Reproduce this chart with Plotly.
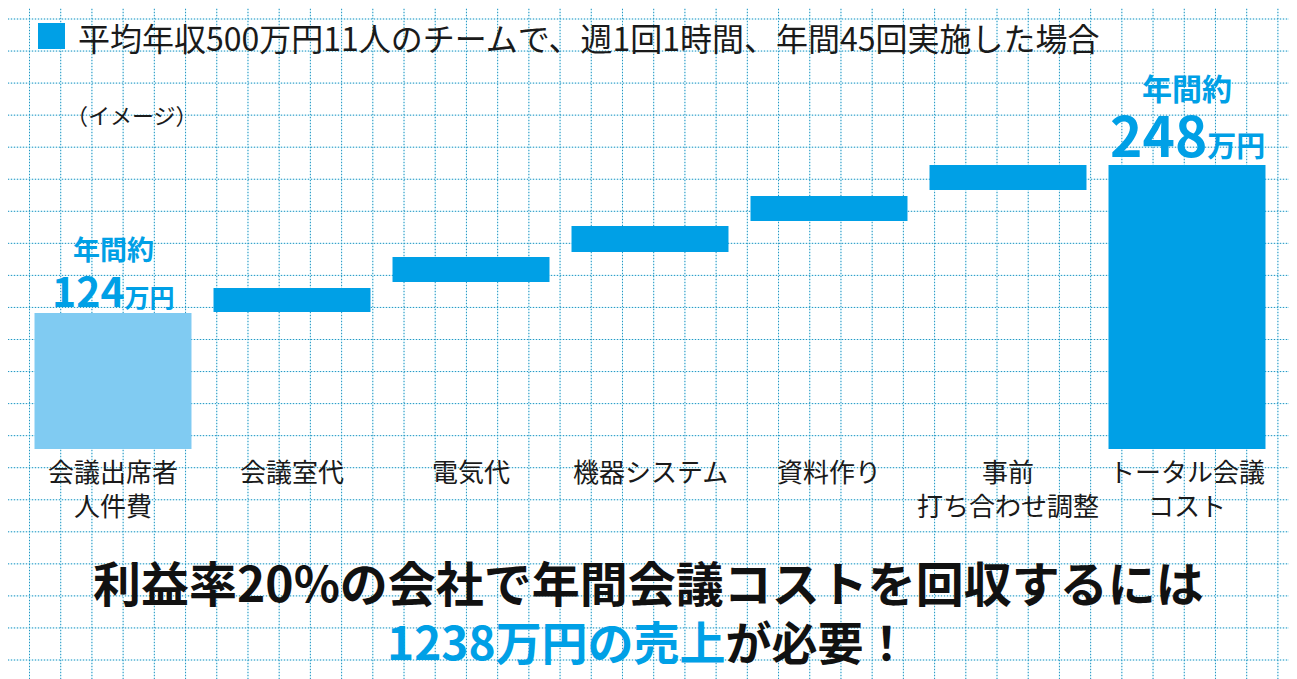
import plotly.graph_objects as go

# waterfall-style meeting cost image (values in 万円)
categories = ["会議出席者<br>人件費", "会議室代", "電気代", "機器システム",
              "資料作り", "事前<br>打ち合わせ調整", "トータル会議<br>コスト"]
bar_base = [0, 119.6, 145.8, 172.0, 199.1, 226.2, 0]
bar_size = [118.8, 21.0, 21.9, 22.7, 21.8, 21.8, 248]

label_idx = [0, 6]
label_nums = ["124", "248"]

title_text = "平均年収500万円11人のチームで、週1回1時間、年間45回実施した場合"
note_text = "（イメージ）"
bottom_line1 = "利益率20%の会社で年間会議コストを回収するには"
bottom_blue = "1238万円の売上"
bottom_rest = "が必要！"

BLUE = "#00a0e6"
LIGHT = "#80cbf2"
FONT = "Noto Sans CJK JP"

# the page puts the figure 8px in from the corner, so work in screen pixels
OFF = 8
SW, SH = 1297, 679
W, H = SW - OFF, SH - OFF


def fx(px):
    return (px - OFF) / W


def fy(py):
    return 1 - (py - OFF) / H


x = list(range(len(categories)))
colors = [LIGHT] + [BLUE] * (len(categories) - 1)

fig = go.Figure(
    data=[
        go.Bar(
            x=x,
            y=bar_size,
            base=bar_base,
            width=0.877,
            marker_color=colors,
            marker_line_width=0,
            hoverinfo="skip"
        )
    ]
)

# graph paper background
shapes = []
gx = [29.5 + 31.21 * k for k in range(41)]
gy = [19 + 32.05 * k for k in range(21)]
for style in [dict(color="#bfeaf6", width=1), dict(color="#2793c0", width=1, dash="1px,2px")]:
    for px in gx:
        shapes.append(dict(type="line", xref="paper", yref="paper", x0=fx(px), x1=fx(px),
                           y0=0, y1=1, line=style, layer="below"))
    for py in gy:
        shapes.append(dict(type="line", xref="paper", yref="paper", x0=0, x1=1,
                           y0=fy(py), y1=fy(py), line=style, layer="below"))

# blue square before the title
shapes.append(dict(type="rect", xref="paper", yref="paper",
                   x0=fx(38), x1=fx(65), y0=fy(49), y1=fy(23),
                   fillcolor=BLUE, line_width=0))

annotations = [
    dict(text=title_text, xref="paper", yref="paper", x=fx(76), y=fy(37),
         xanchor="left", yanchor="middle", showarrow=False,
         font=dict(family=FONT, size=32, color="#1a1a1a")),
    dict(text=note_text, xref="paper", yref="paper", x=fx(64), y=fy(114),
         xanchor="left", yanchor="middle", showarrow=False,
         font=dict(family=FONT, size=22, color="#1a1a1a")),
    dict(text=bottom_line1, xref="paper", yref="paper", x=fx(648), y=fy(581),
         xanchor="center", yanchor="middle", showarrow=False,
         font=dict(family=FONT, size=48, color="#111111", weight=700)),
    dict(text=f"<span style='color:{BLUE}'>{bottom_blue}</span>{bottom_rest}",
         xref="paper", yref="paper", x=fx(648), y=fy(640),
         xanchor="center", yanchor="middle", showarrow=False,
         font=dict(family=FONT, size=46, color="#111111", weight=700)),
]

# category labels under the bars
for i, c in enumerate(categories):
    annotations.append(dict(text=c, x=i, y=0, xref="x", yref="y",
                            xanchor="center", yanchor="top", yshift=-1, showarrow=False,
                            font=dict(family=FONT, size=26, color="#1a1a1a")))

# "年間約 xxx万円" labels above first and total bar
label_style = {0: (27, 41, 25, 64, 24), 6: (30, 55, 29, 78, 32)}
for i, num in zip(label_idx, label_nums):
    s_top, s_num, s_unit, sh_top, sh_num = label_style[i]
    top = bar_base[i] + bar_size[i]
    annotations.append(dict(text="年間約", x=i, y=top, xref="x", yref="y",
                            xanchor="center", yanchor="middle", yshift=sh_top, showarrow=False,
                            font=dict(family=FONT, size=s_top, color=BLUE, weight=700)))
    annotations.append(dict(text=f"{num}<span style='font-size:{s_unit}px'>万円</span>",
                            x=i, y=top, xref="x", yref="y",
                            xanchor="center", yanchor="middle", yshift=sh_num, showarrow=False,
                            font=dict(family=FONT, size=s_num, color=BLUE, weight=700)))

# category i is centred at screen x 113 + 179 i, value 0 at screen y 449
px_per_unit = 284 / 248
fig.update_layout(
    width=W,
    height=H,
    margin=dict(l=0, r=0, t=0, b=0),
    paper_bgcolor="white",
    plot_bgcolor="white",
    showlegend=False,
    shapes=shapes,
    annotations=annotations,
    xaxis=dict(range=[(OFF - 113) / 179, (SW - 113) / 179], visible=False, fixedrange=True),
    yaxis=dict(range=[-(SH - 449) / px_per_unit, (449 - OFF) / px_per_unit],
               visible=False, fixedrange=True),
)

fig.write_html("out.html")
